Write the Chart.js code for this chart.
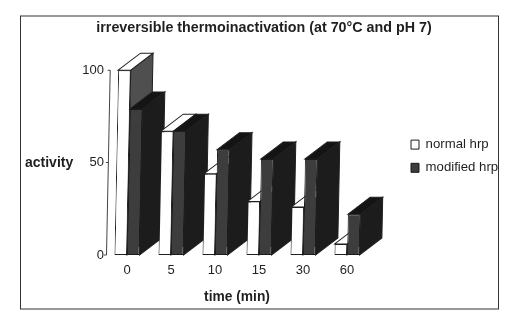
<!DOCTYPE html>
<html>
<head>
<meta charset="utf-8">
<style>
  html, body { margin: 0; padding: 0; background: #fff; }
  canvas { display: block; }
</style>
<script src="https://cdn.jsdelivr.net/npm/chart.js@4"></script>
</head>
<body>
<canvas id="chart" width="510" height="320"></canvas>
<script>
var times = ['0', '5', '10', '15', '30', '60'];
var normalHrp = [100, 67, 44, 29, 26, 6];
var modifiedHrp = [79, 67, 57, 52, 52, 22];
var titleText = 'irreversible thermoinactivation (at 70°C and pH 7)';
var xTitleText = 'time (min)';
var yTitleText = 'activity';

var FONT = '"Liberation Sans", Arial, sans-serif';
var INK = '#1f1f1f';
var DEPTH_X = 22;
var DEPTH_Y = 17;
var LEAN = -0.02; // the scanned page is slightly tilted

function face(ctx, pts, fill) {
  ctx.beginPath();
  ctx.moveTo(pts[0][0], pts[0][1]);
  for (var i = 1; i < pts.length; i++) ctx.lineTo(pts[i][0], pts[i][1]);
  ctx.closePath();
  ctx.fillStyle = fill;
  ctx.fill();
  ctx.lineWidth = 1;
  ctx.strokeStyle = INK;
  ctx.stroke();
}

// draw the bars group by group so each one covers the depth of the one before
var bars3d = {
  id: 'bars3d',
  beforeDatasetsDraw: function(chart) {
    var ctx = chart.ctx;
    var base = chart.scales.y.getPixelForValue(0);
    ctx.save();
    ctx.transform(1, 0, LEAN, 1, -LEAN * base, 0);
    times.forEach(function(t, i) {
      chart.data.datasets.forEach(function(ds, d) {
        var el = chart.getDatasetMeta(d).data[i];
        var half = el.width / 2;
        var l = el.x - half, r = el.x + half;
        face(ctx, [[r, el.y], [r + DEPTH_X, el.y - DEPTH_Y], [r + DEPTH_X, el.base - DEPTH_Y], [r, el.base]], ds.sideColor);
        face(ctx, [[l, el.y], [l + DEPTH_X, el.y - DEPTH_Y], [r + DEPTH_X, el.y - DEPTH_Y], [r, el.y]], ds.topColor);
        el.draw(ctx);
      });
    });
    ctx.restore();
    return false;
  },
  afterLayout: function(chart) {
    var legend = chart.legend;
    legend.left = 401;
    legend.right = 510;
    legend.top = 128;
    legend.bottom = 230;
    legend.adjustHitBoxes();
    // title sits over the whole frame, not just the plot
    chart.titleBlock.left = 18;
    chart.titleBlock.right = 510;
  },
  beforeDraw: function(chart) {
    var ctx = chart.ctx;
    ctx.save();
    ctx.strokeStyle = '#333';
    ctx.lineWidth = 1;
    ctx.strokeRect(20.5, 16, 478, 293);
    ctx.restore();
  },
  afterDraw: function(chart) {
    var ctx = chart.ctx;
    var y = chart.scales.y;
    var base = y.getPixelForValue(0);
    ctx.save();
    // value axis
    ctx.transform(1, 0, LEAN, 1, -LEAN * base, 0);
    ctx.strokeStyle = '#444';
    ctx.lineWidth = 1;
    ctx.beginPath();
    ctx.moveTo(106.5, y.getPixelForValue(100));
    ctx.lineTo(106.5, base);
    y.ticks.forEach(function(tick) {
      var py = y.getPixelForValue(tick.value);
      ctx.moveTo(106.5, py);
      ctx.lineTo(104, py);
    });
    ctx.stroke();
    ctx.restore();
    ctx.save();
    ctx.fillStyle = INK;
    ctx.font = 'bold 14px ' + FONT;
    ctx.textAlign = 'left';
    ctx.textBaseline = 'middle';
    ctx.fillText(yTitleText, 25, 163);
    ctx.restore();
  }
};

new Chart(document.getElementById('chart'), {
  type: 'bar',
  data: {
    labels: times,
    datasets: [{
      label: 'normal hrp',
      data: normalHrp,
      backgroundColor: '#ffffff',
      borderColor: INK,
      borderWidth: 1,
      borderSkipped: false,
      sideColor: '#4f4f4f',
      topColor: '#ffffff'
    }, {
      label: 'modified hrp',
      data: modifiedHrp,
      backgroundColor: '#3d3d3d',
      borderColor: '#1a1a1a',
      borderWidth: 1,
      borderSkipped: false,
      sideColor: '#1c1c1c',
      topColor: '#141414'
    }]
  },
  options: {
    responsive: false,
    animation: false,
    barPercentage: 1,
    categoryPercentage: 0.57,
    layout: { padding: { left: 18, right: 141, bottom: 13 } },
    scales: {
      x: {
        grid: { display: false, drawTicks: false },
        border: { display: false },
        ticks: { color: INK, font: { family: FONT, size: 13 }, padding: 8 },
        title: { display: true, text: xTitleText, color: INK, font: { family: FONT, size: 13.8, weight: 'bold' }, padding: { top: 4, bottom: 2 } },
        afterFit: function(scale) { scale.height = 52; }
      },
      y: {
        min: 0,
        max: 100,
        grid: { display: false, drawTicks: false },
        border: { display: false },
        ticks: { stepSize: 50, color: INK, font: { family: FONT, size: 13 }, padding: 1 },
        afterFit: function(scale) { scale.width = 87; }
      }
    },
    plugins: {
      title: {
        display: true,
        text: titleText,
        color: INK,
        font: { family: FONT, size: 14.3, weight: 'bold' },
        padding: { top: 19, bottom: 34 }
      },
      legend: {
        position: 'chartArea',
        align: 'start',
        labels: {
          color: INK,
          font: { family: FONT, size: 13.2 },
          boxWidth: 8,
          boxHeight: 9,
          padding: 10
        }
      },
      tooltip: { enabled: false }
    }
  },
  plugins: [bars3d]
});
</script>
</body>
</html>
